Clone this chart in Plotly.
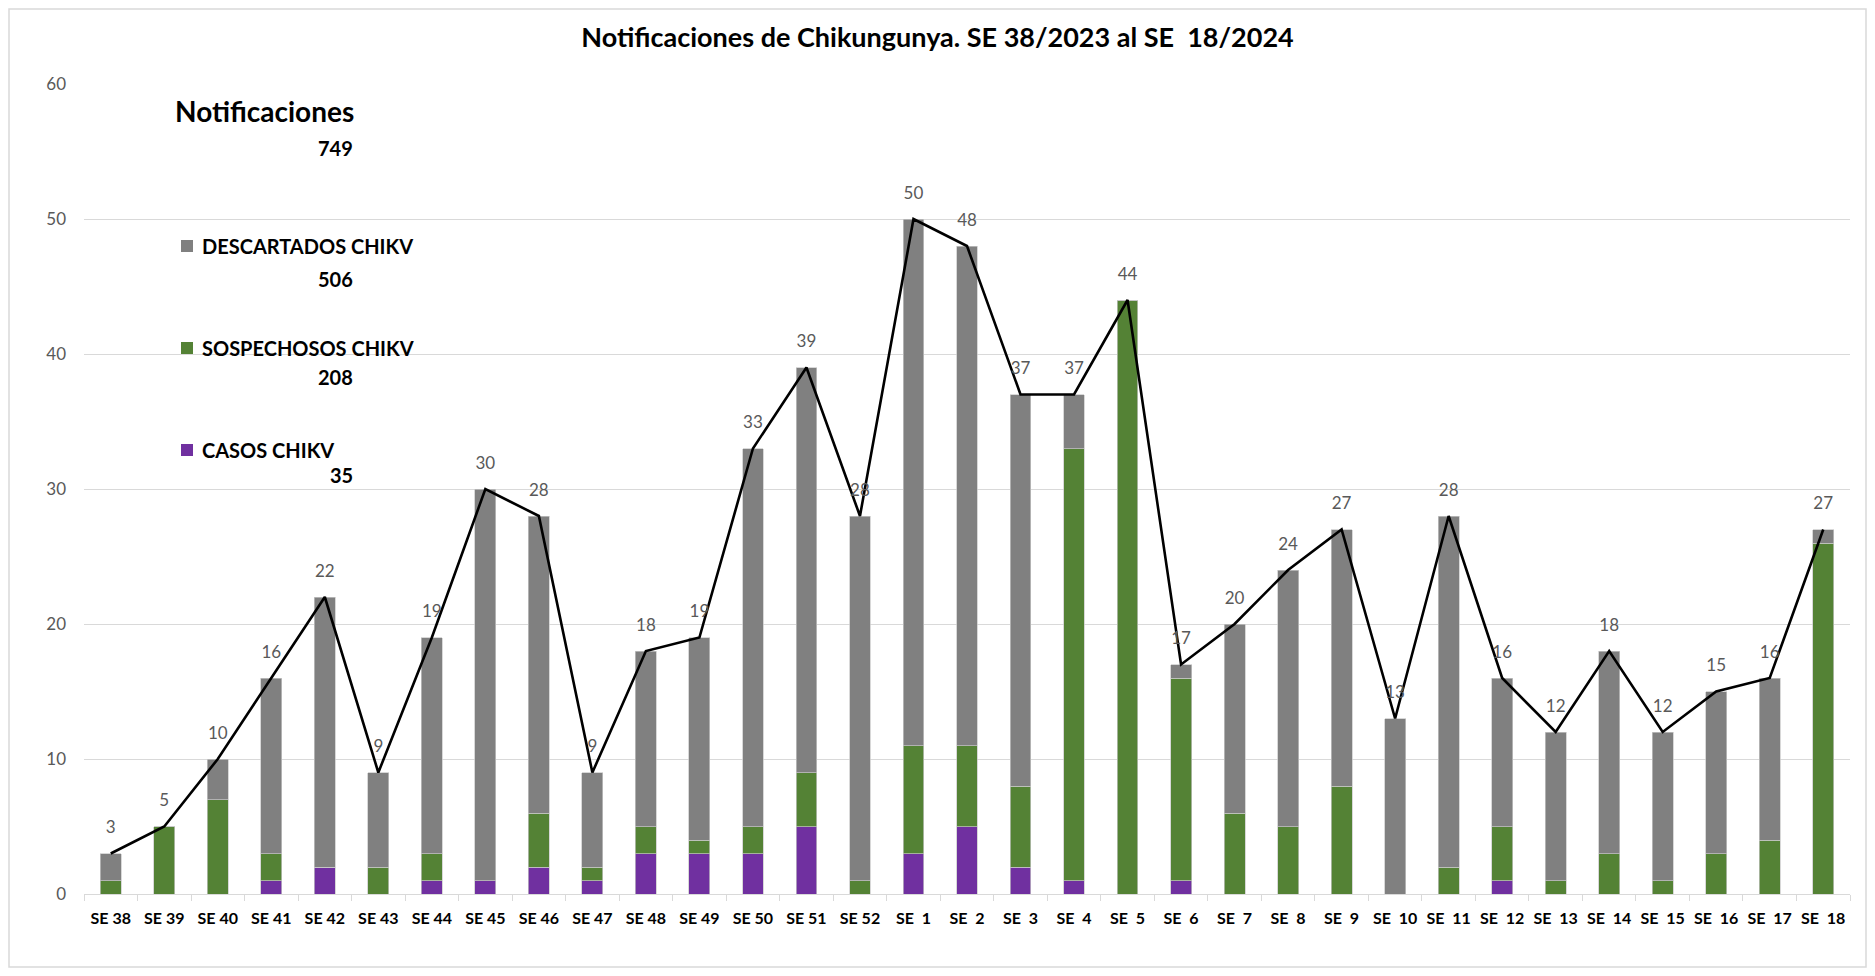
import plotly.graph_objects as go

NB = "\u00a0"
weeks_2023 = ["SE 38", "SE 39", "SE 40", "SE 41", "SE 42", "SE 43", "SE 44", "SE 45",
              "SE 46", "SE 47", "SE 48", "SE 49", "SE 50", "SE 51", "SE 52"]
weeks_2024 = ["SE" + NB + NB + str(i) for i in range(1, 19)]
categories = weeks_2023 + weeks_2024

casos = [0, 0, 0, 1, 2, 0, 1, 1, 2, 1, 3, 3, 3, 5, 0,
         3, 5, 2, 1, 0, 1, 0, 0, 0, 0, 0, 1, 0, 0, 0, 0, 0, 0]
sospechosos = [1, 5, 7, 2, 0, 2, 2, 0, 4, 1, 2, 1, 2, 4, 1,
               8, 6, 6, 32, 44, 15, 6, 5, 8, 0, 2, 4, 1, 3, 1, 3, 4, 26]
descartados = [2, 0, 3, 13, 20, 7, 16, 29, 22, 7, 13, 15, 28, 30, 27,
               39, 37, 29, 4, 0, 1, 14, 19, 19, 13, 26, 11, 11, 15, 11, 12, 12, 1]
notificaciones = [c + s + d for c, s, d in zip(casos, sospechosos, descartados)]

title_text = "Notificaciones de Chikungunya. SE 38/2023 al SE" + NB + " 18/2024"

C_GRAY = "#808080"
C_GREEN = "#548235"
C_PURPLE = "#7030A0"
FONT = "Lato"

OFF = 8  # page body margin
W, H = 1875 - 2 * OFF, 976 - 2 * OFF
# target plot area in page pixels: x 84..1850, y 84..894
L = 84 - OFF
T = 84 - OFF
R = W - (1850 - OFF)
B = H - (894 - OFF)
PW, PH = W - L - R, H - T - B


def px(x):
    """page x pixel -> paper coordinate"""
    return (x - OFF - L) / PW


def py(y):
    """page y pixel -> paper coordinate"""
    return (H - B - (y - OFF)) / PH


fig = go.Figure()
edge = dict(color="#c8c8c8", width=0.7)
fig.add_trace(go.Bar(x=categories, y=casos, name="CASOS CHIKV", marker=dict(color=C_PURPLE, line=edge)))
fig.add_trace(go.Bar(x=categories, y=sospechosos, name="SOSPECHOSOS CHIKV", marker=dict(color=C_GREEN, line=edge)))
fig.add_trace(go.Bar(x=categories, y=descartados, name="DESCARTADOS CHIKV", marker=dict(color=C_GRAY, line=edge)))
fig.add_trace(go.Scatter(
    x=categories, y=notificaciones, name="Notificaciones",
    mode="lines+markers+text", text=[str(v) for v in notificaciones],
    textposition="top center", textfont=dict(family=FONT, size=17, color="#595959"),
    line=dict(color="black", width=2.6),
    marker=dict(size=24, color="rgba(0,0,0,0)"),
    cliponaxis=False,
))

fig.update_layout(
    width=W, height=H,
    margin=dict(l=L, r=R, t=T, b=B, autoexpand=False),
    barmode="stack", bargap=0.61,
    showlegend=False,
    plot_bgcolor="white", paper_bgcolor="white",
    font=dict(family=FONT),
    title=dict(text=title_text, x=0.5, xanchor="center", y=1 - (38 - OFF) / H, yanchor="middle",
               yref="container", font=dict(family=FONT, size=27, color="black", weight="bold")),
)
fig.update_yaxes(range=[0, 60], dtick=10, showgrid=True, gridcolor="#d9d9d9", gridwidth=1,
                 zeroline=False, showline=False, ticks="", ticklabelstandoff=17, automargin=False,
                 tickfont=dict(family=FONT, size=17, color="#595959"))
fig.update_xaxes(type="category", range=[-0.5, len(categories) - 0.5],
                 showline=True, linecolor="#d9d9d9", linewidth=1,
                 ticks="outside", tickson="boundaries", ticklen=6, tickcolor="#d9d9d9",
                 tickangle=0, automargin=False,
                 tickfont=dict(family=FONT, size=16, color="black", weight="bold"),
                 ticklabelstandoff=10)

# Custom legend (text box style)
ann = []
ann.append(dict(x=px(173), y=py(111), text="Notificaciones", xanchor="left", yanchor="middle",
                font=dict(family=FONT, size=28, color="black", weight="bold")))
totals = [
    (sum(notificaciones), 148),
    (sum(descartados), 279),
    (sum(sospechosos), 377),
    (sum(casos), 475),
]
for val, yy in totals:
    ann.append(dict(x=px(355), y=py(yy), text=str(val), xanchor="right", yanchor="middle",
                    font=dict(family=FONT, size=20, color="black", weight="bold")))
items = [("DESCARTADOS CHIKV", C_GRAY, 246), ("SOSPECHOSOS CHIKV", C_GREEN, 348), ("CASOS CHIKV", C_PURPLE, 450)]
shapes = []
for label, col, yy in items:
    ann.append(dict(x=px(200), y=py(yy), text=label, xanchor="left", yanchor="middle",
                    font=dict(family=FONT, size=20, color="black", weight="bold")))
    shapes.append(dict(type="rect", xref="paper", yref="paper",
                       x0=px(181), x1=px(193), y0=py(yy + 6), y1=py(yy - 6),
                       fillcolor=col, line=dict(width=0)))
for a in ann:
    a.update(xref="paper", yref="paper", showarrow=False)

# outer border (drawn at figure edges)
shapes.append(dict(type="rect", xref="paper", yref="paper",
                   x0=px(OFF + 1), x1=px(OFF + W - 1), y0=py(OFF + H - 1), y1=py(OFF + 1),
                   line=dict(color="#d9d9d9", width=1.5), fillcolor="rgba(0,0,0,0)", layer="below"))
fig.update_layout(annotations=ann, shapes=shapes)

fig.write_html("out.html")
